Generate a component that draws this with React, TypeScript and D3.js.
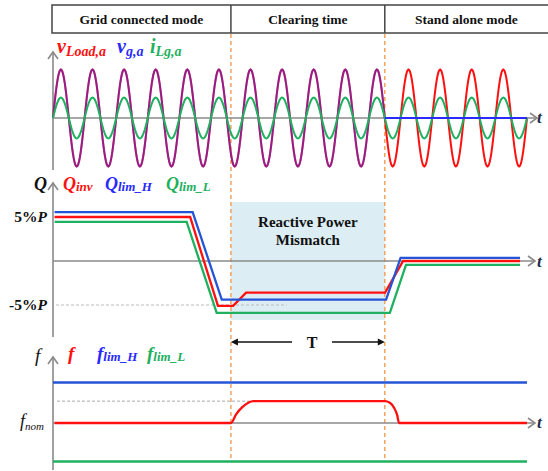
import React from "react";
import * as d3 from "d3";

// timeline, in grid cycles
const cycles = 15;
const tIsland = 5.63; // grid disconnect
const tTrip = 10.5; // end of clearing time
const modes = ["Grid connected mode", "Clearing time", "Stand alone mode"];

// top waveforms (p.u. amplitudes)
const vLoadAmp = 1;
const vgAmp = 1;
const iLgAmp = 0.42;

// reactive power traces [cycle, %P]
const qInv: [number, number][] = [
  [0.05, 5], [4.34, 5], [5.22, -5.1], [5.7, -5.1], [6.11, -3.6],
  [10.51, -3.6], [11.08, 0], [14.78, 0],
];
const qLimH: [number, number][] = [
  [0.05, 5.55], [4.42, 5.55], [5.34, -4.4], [10.54, -4.4], [11.0, 0.35], [14.78, 0.35],
];
const qLimL: [number, number][] = [
  [0.05, 4.45], [4.23, 4.45], [5.18, -5.9], [10.66, -5.9], [11.17, -0.45], [14.78, -0.45],
];

// frequency traces [cycle, Hz]
const fNom = 60;
const fLimH = 61;
const fLimL = 59.05;
const fInv: [number, number][] = [
  [0.05, 60], [5.63, 60], [5.8, 60.22], [5.99, 60.39], [6.18, 60.5], [6.34, 60.54],
  [10.5, 60.54], [10.66, 60.5], [10.79, 60.38], [10.89, 60.2], [10.95, 60], [15, 60],
];

const red = "#ff1010";
const blue = "#2a2aff";
const qBlue = "#2455d6";
const green = "#1fb060";
const orange = "#f2a25e";
const axisGray = "#8a8a8a";
const navy = "#1c2b4a";
const serif = "'Liberation Serif', 'DejaVu Serif', serif";

const x = d3.scaleLinear().domain([0, cycles]).range([53, 527]);
const yW = d3.scaleLinear().domain([-1, 1]).range([166.5, 69.5]);
const yQ = d3.scaleLinear().domain([-5, 5]).range([305, 217]);
const yF = d3.scaleLinear().domain([59, 61]).range([463.5, 382.5]);

const samples = d3.range(0, cycles * 40 + 1).map((i) => i / 40);
const wave = (amp: number, t0: number, t1: number) =>
  d3.line<number>()
    .x((t) => x(t))
    .y((t) => yW(amp * Math.sin(2 * Math.PI * t)))(samples.filter((t) => t >= t0 && t <= t1 + 1e-9)) || "";

const qLine = d3.line<[number, number]>().x((d) => x(d[0])).y((d) => yQ(d[1]));
const fLine = d3.line<[number, number]>().x((d) => x(d[0])).y((d) => yF(d[1])).curve(d3.curveMonotoneX);

const Arrow = ({ x1, y1, x2, y2 }: { x1: number; y1: number; x2: number; y2: number }) => {
  const horiz = y1 === y2;
  const head = horiz
    ? `M${x2 - 7},${y2 - 5}L${x2},${y2}L${x2 - 7},${y2 + 5}`
    : `M${x2 - 5},${y2 + 7}L${x2},${y2}L${x2 + 5},${y2 + 7}`;
  return (
    <g stroke={axisGray} strokeWidth={1.6} fill="none">
      <line x1={x1} y1={y1} x2={x2} y2={y2} />
      <path d={head} />
    </g>
  );
};

const Sym = ({ x0, y0, main, sub, color, size = 18, subSize = 13, bold = true, dy = 3 }: any) => (
  <text x={x0} y={y0} fill={color} fontFamily={serif} fontStyle="italic" fontWeight={bold ? "bold" : "normal"} fontSize={size}>
    {main}
    {sub && <tspan fontSize={subSize} dy={dy}>{sub}</tspan>}
  </text>
);

export default function App() {
  const x0 = x(0);
  const xEnd = 533;
  const mid = (x(tIsland) + x(tTrip)) / 2;
  return (
    <svg width={548} height={471} style={{ position: "absolute", left: 0, top: 0, background: "#fff" }}>
      {/* mode header */}
      <rect x={52} y={5} width={500} height={28} fill="none" stroke="#444" strokeWidth={1.5} />
      {[tIsland, tTrip].map((t) => (
        <line key={t} x1={x(t)} x2={x(t)} y1={5} y2={33} stroke="#444" strokeWidth={1.5} />
      ))}
      {modes.map((m, i) => {
        const bounds = [52, x(tIsland), x(tTrip), 548];
        return (
          <text key={m} x={(bounds[i] + bounds[i + 1]) / 2} y={23.5} textAnchor="middle" fontFamily={serif} fontWeight="bold" fontSize={13.5} fill="#111">
            {m}
          </text>
        );
      })}

      {/* mismatch band */}
      <rect x={x(tIsland)} y={202} width={x(tTrip) - x(tIsland)} height={118} fill="#dcedf3" />
      <text x={mid} y={227} textAnchor="middle" fontFamily={serif} fontWeight="bold" fontSize={15} fill="#111">
        <tspan x={mid}>Reactive Power</tspan>
        <tspan x={mid} dy={18}>Mismatch</tspan>
      </text>

      {/* event markers */}
      {[tIsland, tTrip].map((t) => (
        <line key={"o" + t} x1={x(t)} x2={x(t)} y1={34} y2={462} stroke={orange} strokeWidth={1.5} strokeDasharray="4,3" />
      ))}

      {/* axes */}
      <Arrow x1={x0} y1={170} x2={x0} y2={52} />
      <Arrow x1={x0} y1={yW(0)} x2={537} y2={yW(0)} />
      <Arrow x1={x0} y1={337} x2={x0} y2={183} />
      <Arrow x1={x0} y1={yQ(0)} x2={xEnd + 2} y2={yQ(0)} />
      <Arrow x1={x0} y1={470} x2={x0} y2={357} />
      <Arrow x1={x0} y1={yF(fNom)} x2={xEnd + 2} y2={yF(fNom)} />

      {/* waveforms */}
      <path d={wave(vLoadAmp, 0, cycles)} fill="none" stroke={red} strokeWidth={2} />
      <path d={wave(vgAmp, 0, tTrip)} fill="none" stroke={blue} strokeWidth={2} opacity={0.5} />
      <path d={wave(iLgAmp, 0, cycles)} fill="none" stroke={green} strokeWidth={2} />
      <line x1={x(tTrip)} x2={x(cycles)} y1={yW(0)} y2={yW(0)} stroke={blue} strokeWidth={2.2} />

      <Sym x0={57} y0={53} main="v" sub="Load,a" color={red} size={20} subSize={14} />
      <Sym x0={117} y0={53} main="v" sub="g,a" color={blue} size={20} subSize={14} />
      <Sym x0={150} y0={53} main="i" sub="Lg,a" color={green} size={20} subSize={14} />
      <Sym x0={537} y0={123} main="t" color={navy} size={17} />

      {/* reactive power */}
      <line x1={56} x2={x(7.4)} y1={yQ(-5)} y2={yQ(-5)} stroke="#bbb" strokeWidth={1.2} strokeDasharray="3,2" />
      <path d={qLine(qLimL) || ""} fill="none" stroke={green} strokeWidth={2.3} />
      <path d={qLine(qInv) || ""} fill="none" stroke={red} strokeWidth={2.3} />
      <path d={qLine(qLimH) || ""} fill="none" stroke={qBlue} strokeWidth={2.3} />

      <Sym x0={34} y0={190} main="Q" color="#111" />
      <Sym x0={63} y0={190} main="Q" sub="inv" color={red} dy={1} />
      <Sym x0={105} y0={190} main="Q" sub="lim_H" color={blue} dy={1} />
      <Sym x0={166} y0={190} main="Q" sub="lim_L" color={green} dy={1} />
      <text x={47} y={222} textAnchor="end" fontFamily={serif} fontWeight="bold" fontSize={15.5} fill="#111">
        5%<tspan fontStyle="italic">P</tspan>
      </text>
      <text x={47} y={310} textAnchor="end" fontFamily={serif} fontWeight="bold" fontSize={15.5} fill="#111">
        -5%<tspan fontStyle="italic">P</tspan>
      </text>
      <Sym x0={537} y0={267} main="t" color={navy} size={17} />

      {/* clearing time */}
      <g stroke="#111" strokeWidth={1.5} fill="#111">
        <line x1={x(tIsland) + 2} x2={292} y1={342} y2={342} />
        <line x1={332} x2={x(tTrip) - 2} y1={342} y2={342} />
        <path d={`M${x(tIsland)},342l7,-3.5v7z`} stroke="none" />
        <path d={`M${x(tTrip)},342l-7,-3.5v7z`} stroke="none" />
      </g>
      <text x={312} y={348} textAnchor="middle" fontFamily={serif} fontWeight="bold" fontSize={16} fill="#111">T</text>

      {/* frequency */}
      <line x1={57} x2={x(6.3)} y1={yF(60.54)} y2={yF(60.54)} stroke="#aaa" strokeWidth={1} strokeDasharray="3,2" />
      <line x1={x0} x2={x(cycles)} y1={yF(fLimH)} y2={yF(fLimH)} stroke={qBlue} strokeWidth={2.3} />
      <line x1={x0} x2={x(cycles)} y1={yF(fLimL)} y2={yF(fLimL)} stroke={green} strokeWidth={2.3} />
      <path d={fLine(fInv) || ""} fill="none" stroke={red} strokeWidth={2.3} />

      <Sym x0={35} y0={362} main="f" color="#111" bold={false} size={19} />
      <Sym x0={68} y0={360} main="f" color={red} size={19} />
      <Sym x0={97} y0={360} main="f" sub="lim_H" color={blue} size={19} dy={1} />
      <Sym x0={147} y0={360} main="f" sub="lim_L" color={green} size={19} dy={1} />
      <Sym x0={20} y0={427} main="f" sub="nom" color="#111" bold={false} size={18} subSize={11} />
      <Sym x0={537} y0={428} main="t" color={navy} size={17} />
    </svg>
  );
}
